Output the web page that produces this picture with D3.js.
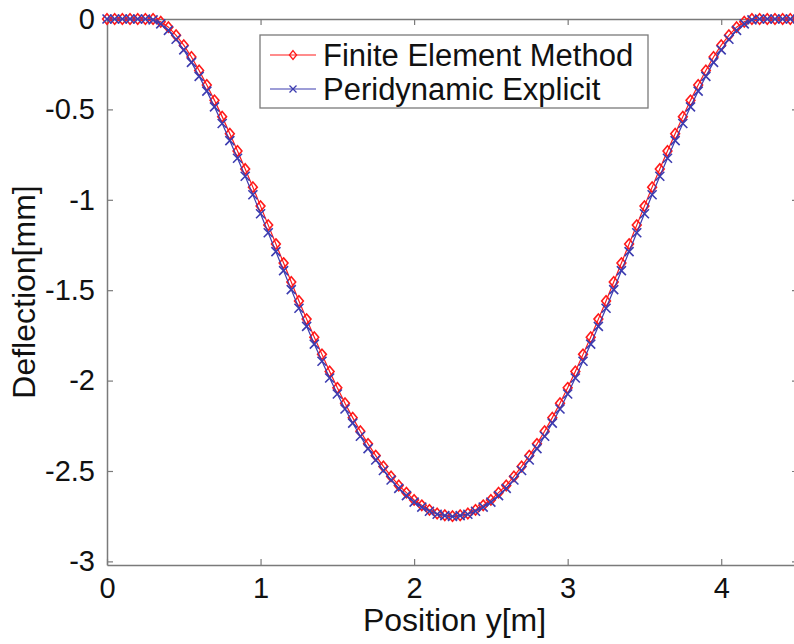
<!DOCTYPE html>
<html>
<head>
<meta charset="utf-8">
<script src="https://cdn.jsdelivr.net/npm/d3@7"></script>
<style>
  html, body { margin: 0; padding: 0; background: #fff; }
  svg { display: block; font-family: "Liberation Sans", Arial, Helvetica, sans-serif; }
</style>
</head>
<body>
<svg id="chart" width="794" height="644"></svg>
<script>
// ---- data ----
const positions = [
  0.00,0.05,0.10,0.15,0.20,0.25,0.30,0.35,0.40,0.45,0.50,0.55,0.60,0.65,0.70,0.75,0.80,0.85,0.90,0.95,
  1.00,1.05,1.10,1.15,1.20,1.25,1.30,1.35,1.40,1.45,1.50,1.55,1.60,1.65,1.70,1.75,1.80,1.85,1.90,1.95,
  2.00,2.05,2.10,2.15,2.20,2.25,2.30,2.35,2.40,2.45,2.50,2.55,2.60,2.65,2.70,2.75,2.80,2.85,2.90,2.95,
  3.00,3.05,3.10,3.15,3.20,3.25,3.30,3.35,3.40,3.45,3.50,3.55,3.60,3.65,3.70,3.75,3.80,3.85,3.90,3.95,
  4.00,4.05,4.10,4.15,4.20,4.25,4.30,4.35,4.40,4.45,4.50
];
const femValues = [
  0,0,0,0,0,0,0,
  -0.015,-0.045,-0.09,-0.145,-0.21,-0.285,-0.365,-0.45,-0.54,-0.635,-0.73,-0.83,-0.93,-1.035,-1.14,-1.245,
  -1.35,-1.455,-1.56,-1.66,-1.76,-1.855,-1.95,-2.04,-2.125,-2.205,-2.28,-2.35,-2.415,-2.475,-2.53,-2.58,
  -2.62,-2.66,-2.69,-2.715,-2.735,-2.745,-2.75,
  -2.745,-2.735,-2.715,-2.69,-2.66,-2.62,-2.58,-2.53,-2.475,-2.415,-2.35,-2.28,-2.205,-2.125,-2.04,-1.95,
  -1.855,-1.76,-1.66,-1.56,-1.455,-1.35,-1.245,-1.14,-1.035,-0.93,-0.83,-0.73,-0.635,-0.54,-0.45,-0.365,
  -0.285,-0.21,-0.145,-0.09,-0.045,-0.015,0,
  0,0,0,0,0,0
];
const pdValues = [
  0,0,0,0,0,0,-0.005,
  -0.027,-0.063,-0.112,-0.171,-0.24,-0.317,-0.399,-0.486,-0.578,-0.673,-0.77,-0.87,-0.972,-1.077,-1.182,-1.287,
  -1.392,-1.497,-1.60,-1.70,-1.798,-1.893,-1.986,-2.074,-2.157,-2.235,-2.308,-2.376,-2.439,-2.497,-2.55,-2.596,
  -2.636,-2.672,-2.70,-2.723,-2.739,-2.747,-2.752,
  -2.747,-2.739,-2.723,-2.70,-2.672,-2.636,-2.596,-2.55,-2.497,-2.439,-2.376,-2.308,-2.235,-2.157,-2.074,-1.986,
  -1.893,-1.798,-1.70,-1.60,-1.497,-1.392,-1.287,-1.182,-1.077,-0.972,-0.87,-0.77,-0.673,-0.578,-0.486,-0.399,
  -0.317,-0.24,-0.171,-0.112,-0.063,-0.027,-0.005,
  0,0,0,0,0,0
];
const xTicks = [0, 1, 2, 3, 4];
const yTicks = [0, -0.5, -1, -1.5, -2, -2.5, -3];
const seriesNames = ["Finite Element Method", "Peridynamic Explicit"];
const xLabel = "Position y[m]";
const yLabel = "Deflection[mm]";

// ---- layout ----
const pLeft = 107, pTop = 19, pRight = 798, pBottom = 565;
const red = "#ff1a1a", blue = "#3c3cb0", axisColor = "#7a7a7a";

const svg = d3.select("#chart");
const x = d3.scaleLinear().domain([0, 4.5]).range([pLeft, pRight]);
const y = d3.scaleLinear().domain([-3.02, 0]).range([pBottom, pTop]);

// axes (box with inward ticks)
const tickLen = 6;
const gAxis = svg.append("g");
gAxis.append("g").attr("transform", `translate(0,${pBottom})`)
  .call(d3.axisBottom(x).tickValues(xTicks).tickSizeInner(-tickLen).tickSizeOuter(0).tickPadding(12).tickFormat(d3.format("d")));
gAxis.append("g").attr("transform", `translate(0,${pTop})`)
  .call(d3.axisTop(x).tickValues(xTicks).tickSizeInner(-tickLen).tickSizeOuter(0).tickFormat(""));
gAxis.append("g").attr("transform", `translate(${pLeft},0)`)
  .call(d3.axisLeft(y).tickValues(yTicks).tickSizeInner(-tickLen).tickSizeOuter(0).tickPadding(12).tickFormat(d => d === 0 ? "0" : String(d)));
gAxis.append("g").attr("transform", `translate(${pRight},0)`)
  .call(d3.axisRight(y).tickValues(yTicks).tickSizeInner(-tickLen).tickSizeOuter(0).tickFormat(""));
gAxis.selectAll(".domain").attr("stroke", axisColor).attr("stroke-width", 1.5);
gAxis.selectAll(".tick line").attr("stroke", axisColor).attr("stroke-width", 1.2);
gAxis.selectAll(".tick text").attr("fill", "#111").attr("font-size", 29)
  .attr("font-family", "'Liberation Sans', Arial, Helvetica, sans-serif");

// axis labels
svg.append("text").attr("x", (pLeft + 794) / 2 + 4).attr("y", 631)
  .attr("text-anchor", "middle").attr("font-size", 32).attr("fill", "#111").text(xLabel);
svg.append("text").attr("transform", `translate(35,${(pTop + pBottom) / 2}) rotate(-90)`)
  .attr("text-anchor", "middle").attr("font-size", 32).attr("fill", "#111").text(yLabel);

// data
const fem = positions.map((p, i) => ({ x: p, y: femValues[i] }));
const pd = positions.map((p, i) => ({ x: p, y: pdValues[i] }));
const line = d3.line().x(d => x(d.x)).y(d => y(d.y));

function diamondPath(cx, cy, w = 4.4, h = 5.2) {
  return `M${cx},${cy - h}L${cx + w},${cy}L${cx},${cy + h}L${cx - w},${cy}Z`;
}
function crossPath(cx, cy, s = 4.5) {
  return `M${cx - s},${cy - s}L${cx + s},${cy + s}M${cx - s},${cy + s}L${cx + s},${cy - s}`;
}

const gFem = svg.append("g");
gFem.append("path").datum(fem).attr("d", line).attr("fill", "none").attr("stroke", red).attr("stroke-width", 1.2);
gFem.selectAll("path.m").data(fem).join("path").attr("class", "m")
  .attr("d", d => diamondPath(x(d.x), y(d.y)))
  .attr("fill", "none").attr("stroke", red).attr("stroke-width", 1.6);

const gPd = svg.append("g");
gPd.append("path").datum(pd).attr("d", line).attr("fill", "none").attr("stroke", blue).attr("stroke-width", 1.2);
gPd.selectAll("path.m").data(pd).join("path").attr("class", "m")
  .attr("d", d => crossPath(x(d.x), y(d.y)))
  .attr("fill", "none").attr("stroke", blue).attr("stroke-width", 1.6);

// legend
const lg = svg.append("g");
lg.append("rect").attr("x", 260).attr("y", 35).attr("width", 388).attr("height", 73)
  .attr("fill", "#fff").attr("stroke", axisColor).attr("stroke-width", 1.3);
const rows = [
  { name: seriesNames[0], color: red, marker: (cx, cy) => diamondPath(cx, cy, 3.6, 4.4), cy: 55 },
  { name: seriesNames[1], color: blue, marker: (cx, cy) => crossPath(cx, cy, 3.5), cy: 89 }
];
rows.forEach(r => {
  lg.append("line").attr("x1", 270).attr("x2", 316).attr("y1", r.cy).attr("y2", r.cy)
    .attr("stroke", r.color).attr("stroke-width", 1.1);
  lg.append("path").attr("d", r.marker(293, r.cy)).attr("fill", "none")
    .attr("stroke", r.color).attr("stroke-width", 1.3);
  lg.append("text").attr("x", 323).attr("y", r.cy + 11).attr("font-size", 31)
    .attr("fill", "#111").text(r.name);
});
</script>
</body>
</html>
